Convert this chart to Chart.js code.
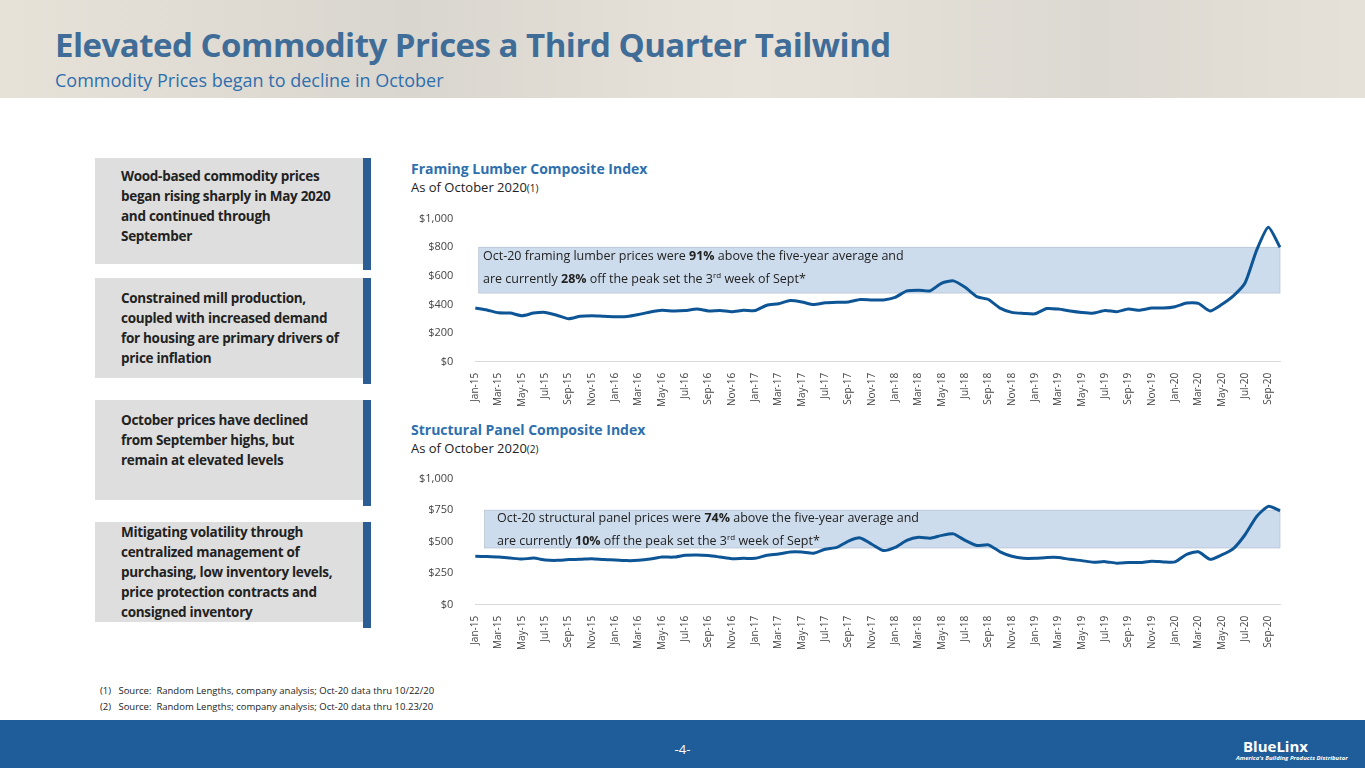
<!DOCTYPE html>
<html><head><meta charset="utf-8">
<script src="https://cdn.jsdelivr.net/npm/chart.js@4"></script>
<style>
body{margin:0;width:1365px;height:768px;overflow:hidden;background:#fff;font-family:Calibri,"Liberation Sans Narrow","Open Sans",sans-serif;position:relative}
.hdr{position:absolute;left:0;top:0;width:1365px;height:98px;background:linear-gradient(90deg,#e7e2d8,#d9d6cf 30%,#e8e3da 55%,#dcd9d2 80%,#e6e1d8)}
.title{position:absolute;left:55px;top:22px;font:bold 33px "Open Sans",sans-serif;color:#3f6d98;letter-spacing:-0.5px}
.sub{position:absolute;left:55px;top:68px;font:18px "Open Sans",sans-serif;color:#2e6fae}
.box{position:absolute;left:95px;width:270px;background:#dedede;font:bold 13.5px "Open Sans",sans-serif;color:#222;box-sizing:border-box;padding:0 0 0 26px;line-height:20px;display:flex;align-items:center;letter-spacing:-0.3px}
.box::after{content:"";position:absolute;right:-6px;top:0;bottom:-6px;width:8px;background:#2c5e93}
.ct{position:absolute;font:bold 14px "Open Sans",sans-serif;color:#2e6fae}
.cs{position:absolute;font:13px "Open Sans",sans-serif;color:#222}
.note{position:absolute;left:483px;font:12.5px "Open Sans",sans-serif;color:#222;line-height:19px}
.fn{position:absolute;left:100px;font:9.5px "Open Sans",sans-serif;color:#222}
.ftr{position:absolute;left:0;top:720px;width:1365px;height:48px;background:#1e5c9a}
.cv{position:absolute}
</style></head><body>
<div class="hdr"></div>
<div class="title">Elevated Commodity Prices a Third Quarter Tailwind</div>
<div class="sub">Commodity Prices began to decline in October</div>

<div class="box" style="top:158px;height:106px;padding-bottom:10px">Wood-based commodity prices<br>began rising sharply in May 2020<br>and continued through<br>September</div>
<div class="box" style="top:278px;height:100px">Constrained mill production,<br>coupled with increased demand<br>for housing are primary drivers of<br>price inflation</div>
<div class="box" style="top:400px;height:100px;align-items:flex-start;padding-top:10px">October prices have declined<br>from September highs, but<br>remain at elevated levels</div>
<div class="box" style="top:522px;height:100px;align-items:flex-end;padding-bottom:0">Mitigating volatility through<br>centralized management of<br>purchasing, low inventory levels,<br>price protection contracts and<br>consigned inventory</div>

<div class="ct" style="left:411px;top:159px">Framing Lumber Composite Index</div>
<div class="cs" style="left:411px;top:178px">As of October 2020<span style="font-size:10px">(1)</span></div>
<div class="ct" style="left:411px;top:420px">Structural Panel Composite Index</div>
<div class="cs" style="left:411px;top:439px">As of October 2020<span style="font-size:10px">(2)</span></div>

<canvas id="c1" class="cv" style="left:405px;top:198px;width:890px;height:212px" width="890" height="212"></canvas>
<canvas id="c2" class="cv" style="left:405px;top:458px;width:890px;height:195px" width="890" height="195"></canvas>

<div class="note" style="top:246px">Oct-20 framing lumber prices were <b>91%</b> above the five-year average and<br>are currently <b>28%</b> off the peak set the 3<sup style="font-size:8px">rd</sup> week of Sept*</div>
<div class="note" style="top:508px;left:497px">Oct-20 structural panel prices were <b>74%</b> above the five-year average and<br>are currently <b>10%</b> off the peak set the 3<sup style="font-size:8px">rd</sup> week of Sept*</div>

<div class="fn" style="top:684px">(1)&nbsp;&nbsp;&nbsp;Source:&nbsp; Random Lengths, company analysis; Oct-20 data thru 10/22/20</div>
<div class="fn" style="top:700px">(2)&nbsp;&nbsp;&nbsp;Source:&nbsp; Random Lengths; company analysis; Oct-20 data thru 10.23/20</div>
<div class="ftr"></div>
<div style="position:absolute;left:0;width:1365px;top:740px;text-align:center;color:#fff;font:13px 'Open Sans',sans-serif">-4-</div>
<div style="position:absolute;left:1243px;top:736px;color:#fff;font:bold 15px 'Open Sans',sans-serif">BlueLinx</div>
<div style="position:absolute;left:1236px;top:754px;color:#fff;font:italic bold 6px 'Open Sans',sans-serif">America's Building Products Distributor</div>

<script>
const monthNames = ['Jan','Feb','Mar','Apr','May','Jun','Jul','Aug','Sep','Oct','Nov','Dec'];
const months = [];
for (let y = 15; y <= 20; y++) for (let m = 0; m < 12; m++) if (!(y === 20 && m > 9)) months.push(monthNames[m] + '-' + y);

const lumber = [375,362,342,340,322,340,345,325,300,318,322,318,
  315,316,330,348,360,355,358,368,355,358,350,360,
  358,395,405,428,418,400,412,416,418,435,432,432,
  450,495,500,495,550,565,520,455,435,375,345,338,
  335,372,368,355,345,340,358,350,368,360,375,375,
  385,410,408,355,400,460,550,780,940,800];
const panel = [385,382,378,370,362,370,355,352,358,360,365,358,
  355,350,352,362,378,378,392,395,390,378,365,368,
  368,392,402,418,418,408,440,455,505,530,480,430,
  455,510,535,528,550,562,510,470,475,420,385,368,
  368,375,375,360,350,338,342,330,335,335,345,340,
  340,400,420,360,395,445,555,700,780,745];
const lumberTicks = [0,200,400,600,800,1000];
const panelTicks = [0,250,500,750,1000];
const lumberBand = [480,800];
const panelBand = [450,750];

const bandPlugin = {
  id: 'band',
  beforeDatasetsDraw(chart, args, opts) {
    const { ctx, chartArea, scales } = chart;
    const top = scales.y.getPixelForValue(opts.range[1]);
    const bot = scales.y.getPixelForValue(opts.range[0]);
    const left = scales.x.getPixelForValue(opts.from);
    ctx.save();
    ctx.fillStyle = '#cddced';
    ctx.strokeStyle = '#aab8c8';
    ctx.lineWidth = 0.6;
    ctx.fillRect(left, top, chartArea.right - left, bot - top);
    ctx.strokeRect(left, top, chartArea.right - left, bot - top);
    ctx.restore();
  }
};

function makeChart(id, data, ticks, band, from) {
  return new Chart(document.getElementById(id), {
    type: 'line',
    data: { labels: months, datasets: [{ data, borderColor: '#0e5596', borderWidth: 3, pointRadius: 0, tension: 0.2 }] },
    plugins: [bandPlugin],
    options: {
      responsive: false, animation: false,
      layout: { padding: { right: 8, top: 6 } },
      plugins: { legend: { display: false }, tooltip: { enabled: false }, band: { range: band, from } },
      scales: {
        x: {
          grid: { display: false }, border: { color: '#d9d9d9' },
          ticks: { autoSkip: false, maxRotation: 90, minRotation: 90, color: '#444', font: { size: 10, family: 'Open Sans' },
            callback: (v, i) => i % 2 === 0 ? months[i] : '' }
        },
        y: {
          min: 0, max: ticks[ticks.length - 1], afterBuildTicks: s => { s.ticks = ticks.map(v => ({ value: v })); },
          grid: { display: false }, border: { display: false },
          ticks: { color: '#444', font: { size: 11, family: 'Open Sans' }, padding: 14, callback: v => '$' + v.toLocaleString() }
        }
      }
    }
  });
}
makeChart('c1', lumber, lumberTicks, lumberBand, 0.3);
makeChart('c2', panel, panelTicks, panelBand, 0.8);
</script>
</body></html>
